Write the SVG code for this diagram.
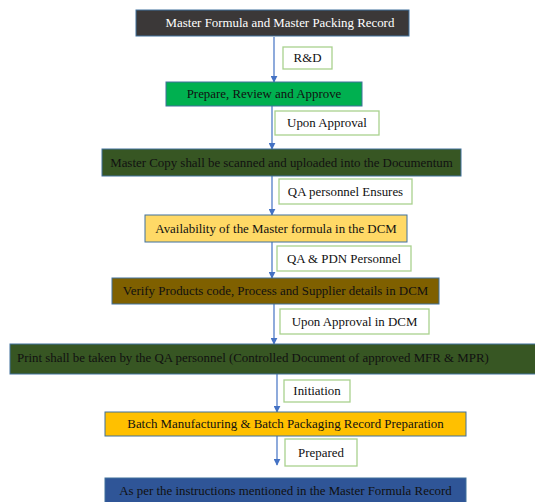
<svg xmlns="http://www.w3.org/2000/svg" width="535" height="502" viewBox="0 0 535 502">
<style>
.box{stroke:#41719c;stroke-width:1}
.lbl{fill:#fff;stroke:#a9d18e;stroke-width:1.3}
text{font-family:"Liberation Serif","Times New Roman",serif;font-size:12.9px;fill:#111;text-anchor:middle;dominant-baseline:central}
.conn{stroke:#4472c4;stroke-width:1.2;fill:none;marker-end:url(#ah)}
</style>
<defs>
<marker id="ah" viewBox="0 0 10 10" refX="9" refY="5" markerWidth="7" markerHeight="7" orient="auto" markerUnits="userSpaceOnUse">
<path d="M0,0 L10,5 L0,10 z" fill="#4472c4"/>
</marker>
</defs>
<rect width="535" height="502" fill="#fff"/>
<g id="connectors">
<line class="conn" x1="274" y1="37" x2="274" y2="82"/>
<line class="conn" x1="272" y1="106" x2="272" y2="149"/>
<line class="conn" x1="272" y1="176" x2="272" y2="215"/>
<line class="conn" x1="272" y1="242" x2="272" y2="278"/>
<line class="conn" x1="274" y1="304" x2="274" y2="344"/>
<line class="conn" x1="277" y1="374" x2="277" y2="412"/>
<line class="conn" x1="277" y1="436" x2="277" y2="465"/>
</g>
<g id="n1"><rect class="box" x="136" y="10" width="273" height="26" fill="#3b3838"/><text x="280" y="23" style="fill:#fff">Master  Formula and Master  Packing Record</text></g>
<g id="l1"><rect class="lbl" x="283" y="47" width="49" height="22"/><text x="307.5" y="58">R&amp;D</text></g>
<g id="n2"><rect class="box" x="166" y="82" width="196" height="24" fill="#00b050"/><text x="264" y="94">Prepare, Review and Approve</text></g>
<g id="l2"><rect class="lbl" x="275" y="111" width="104" height="24"/><text x="327" y="123">Upon Approval</text></g>
<g id="n3"><rect class="box" x="102" y="149" width="359" height="27" fill="#375623"/><text x="281.5" y="162.5">Master Copy shall be scanned and uploaded into the Documentum</text></g>
<g id="l3"><rect class="lbl" x="279" y="179" width="133" height="25"/><text x="345.5" y="191.5">QA personnel Ensures</text></g>
<g id="n4"><rect class="box" x="145" y="215" width="262" height="27" fill="#ffd966"/><text x="276" y="228.5">Availability of the Master formula in the DCM</text></g>
<g id="l4"><rect class="lbl" x="277" y="246" width="134" height="25"/><text x="344" y="258.5">QA &amp; PDN Personnel</text></g>
<g id="n5"><rect class="box" x="112" y="278" width="327" height="26" fill="#7f6000"/><text x="275.5" y="291">Verify Products code, Process and Supplier details in DCM</text></g>
<g id="l5"><rect class="lbl" x="280" y="309" width="149" height="25"/><text x="354.5" y="321.5">Upon Approval in DCM</text></g>
<g id="n6"><rect class="box" x="10" y="344" width="530" height="30" fill="#375623"/><text x="17" y="358" style="text-anchor:start">Print shall be taken by the QA personnel (Controlled Document of approved MFR &amp; MPR)</text></g>
<g id="l6"><rect class="lbl" x="284" y="380" width="66" height="22"/><text x="317" y="391">Initiation</text></g>
<g id="n7"><rect class="box" x="105" y="412" width="361" height="24" fill="#ffc000"/><text x="285.5" y="424">Batch Manufacturing &amp; Batch Packaging Record Preparation</text></g>
<g id="l7"><rect class="lbl" x="285" y="439" width="72" height="27"/><text x="321" y="452.5">Prepared</text></g>
<g id="n8"><rect class="box" x="105" y="478" width="361" height="30" fill="#2f5597"/><text x="285.5" y="491">As per the instructions mentioned in the Master Formula Record</text></g>
</svg>
